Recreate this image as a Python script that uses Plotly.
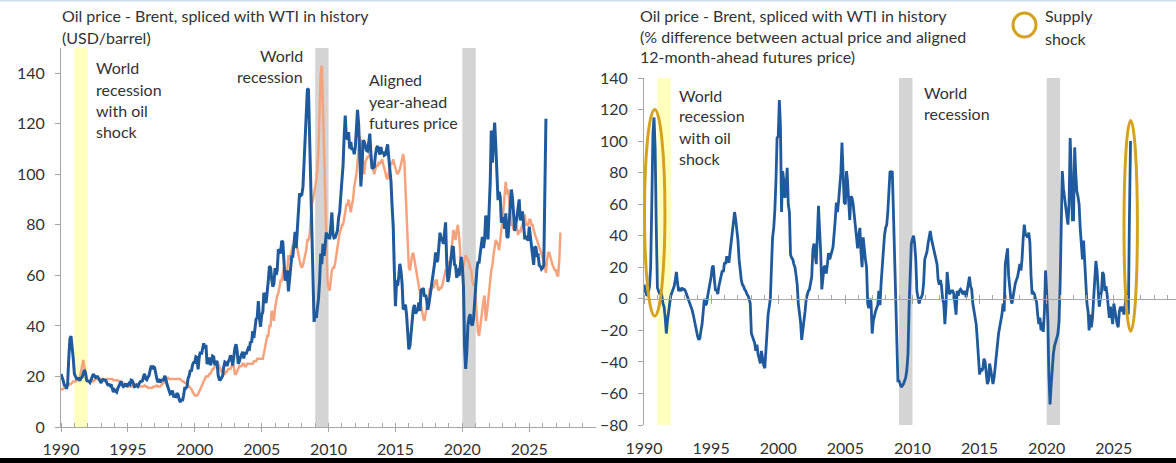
import pandas as pd
import plotly.graph_objects as go

# ---------------- data (monthly) ----------------
# Brent (spliced with WTI in history), USD/barrel, Jan 1990 - Apr 2026
brent = [
    21.0, 19.9, 18.4, 16.6, 16.4, 15.1, 17.2, 27.2, 34.9, 36.0, 32.3, 27.3,   # 1990
    21.0, 19.5, 19.1, 19.2, 19.2, 18.3, 19.4, 19.7, 20.8, 22.6, 21.5, 18.5,   # 1991
    18.2, 18.1, 17.6, 18.9, 19.9, 21.0, 20.3, 19.6, 19.9, 19.9, 19.0, 18.2,   # 1992
    17.4, 18.5, 18.8, 18.6, 18.5, 17.6, 16.7, 16.8, 16.3, 16.8, 15.1, 13.8,   # 1993
    14.7, 14.0, 13.8, 15.3, 16.3, 16.9, 18.0, 16.7, 16.0, 16.3, 17.2, 16.0,   # 1994
    16.6, 17.3, 16.9, 18.6, 18.4, 17.3, 15.9, 16.1, 16.6, 16.1, 16.8, 17.9,   # 1995
    18.0, 18.2, 19.9, 21.0, 19.1, 18.7, 19.7, 20.4, 22.6, 24.3, 22.9, 23.8,   # 1996
    23.5, 20.8, 19.1, 17.7, 19.0, 17.6, 18.5, 18.6, 18.6, 20.2, 19.2, 17.1,   # 1997
    15.3, 14.1, 13.1, 13.4, 14.4, 12.2, 12.1, 12.0, 13.4, 12.9, 11.0, 9.8,    # 1998
    11.1, 10.3, 12.5, 15.3, 15.3, 15.9, 19.1, 20.3, 22.5, 22.0, 24.6, 25.5,   # 1999
    25.5, 27.8, 27.5, 22.8, 27.6, 29.8, 28.7, 30.4, 33.1, 31.0, 32.5, 25.0,   # 2000
    25.6, 27.5, 24.5, 25.6, 28.1, 27.8, 24.5, 25.7, 25.6, 20.5, 18.8, 18.7,   # 2001
    19.4, 20.3, 23.7, 25.7, 25.4, 24.1, 25.7, 26.6, 28.3, 27.6, 24.3, 28.3,   # 2002
    31.2, 32.8, 30.4, 25.0, 25.8, 27.6, 28.4, 29.8, 27.1, 29.6, 28.8, 29.8,   # 2003
    31.2, 30.9, 33.8, 33.4, 37.9, 35.2, 38.2, 42.7, 43.2, 49.8, 43.1, 39.7,   # 2004
    44.3, 45.5, 53.1, 51.9, 49.0, 55.6, 57.9, 63.7, 63.0, 58.5, 55.5, 56.7,   # 2005
    62.9, 60.2, 62.1, 70.3, 69.8, 68.7, 73.7, 73.2, 62.5, 58.0, 58.8, 62.0,   # 2006
    53.7, 57.6, 62.1, 67.4, 67.5, 71.3, 77.2, 70.8, 77.1, 82.9, 92.5, 91.5,   # 2007
    91.9, 94.8, 103.3, 110.2, 124.6, 133.5, 133.9, 113.9, 99.1, 72.8, 53.2, 41.6,   # 2008
    44.9, 43.2, 47.0, 50.8, 57.9, 68.6, 64.4, 72.5, 67.7, 73.2, 77.0, 74.7,   # 2009
    76.4, 74.3, 79.3, 84.9, 76.3, 74.8, 75.0, 77.0, 77.8, 82.7, 85.3, 91.5,   # 2010
    96.5, 103.7, 114.6, 123.3, 114.5, 113.9, 116.7, 110.2, 112.8, 109.6, 110.5, 107.9,   # 2011
    110.7, 119.3, 125.5, 119.8, 110.3, 95.2, 102.6, 113.4, 113.0, 111.5, 109.5, 109.2,   # 2012
    112.3, 116.1, 108.5, 102.3, 102.6, 102.9, 107.4, 110.3, 111.2, 109.5, 107.8, 110.8,   # 2013
    108.1, 108.9, 107.5, 107.8, 109.5, 111.9, 106.8, 101.6, 97.1, 87.4, 79.4, 62.3,   # 2014
    47.8, 58.1, 55.9, 59.5, 64.6, 61.7, 56.8, 46.5, 47.6, 48.4, 44.3, 38.0,   # 2015
    30.7, 32.2, 38.2, 41.6, 46.7, 48.3, 44.9, 45.7, 46.6, 49.3, 45.9, 54.1,   # 2016
    54.6, 54.9, 51.6, 52.3, 50.3, 46.4, 48.5, 51.7, 56.2, 57.5, 62.7, 64.4,   # 2017
    69.1, 65.3, 66.0, 72.1, 76.9, 74.4, 74.3, 72.5, 78.9, 81.0, 64.8, 57.4,   # 2018
    59.4, 64.0, 66.1, 71.2, 71.1, 64.2, 63.9, 59.0, 62.8, 59.7, 63.2, 67.3,   # 2019
    63.7, 55.5, 32.0, 23.0, 29.4, 40.3, 43.2, 44.7, 40.9, 40.2, 42.7, 49.9,   # 2020
    54.8, 62.3, 65.4, 64.8, 68.5, 73.2, 75.2, 70.8, 74.5, 83.7, 81.1, 74.2,   # 2021
    86.5, 97.1, 117.3, 104.6, 113.3, 120.5, 111.9, 100.4, 89.8, 93.1, 91.1, 80.9,   # 2022
    82.5, 82.6, 78.4, 84.6, 75.5, 74.8, 80.1, 86.2, 94.0, 90.6, 82.9, 77.6,   # 2023
    80.1, 83.5, 85.4, 90.1, 81.8, 83.0, 85.3, 80.9, 74.3, 75.6, 74.4, 73.8,   # 2024
    79.3, 75.2, 72.6, 67.8, 64.2, 71.4, 71.0, 67.9, 68.0, 64.0, 63.6, 62.5,   # 2025
    63.0, 64.0, 92.0, 122.0,                                                  # 2026
]

# Aligned year-ahead futures price, USD/barrel, Jan 1990 - May 2027
futures = [
    14.5, 15.0, 15.0, 15.5, 16.0, 16.0, 16.5, 16.5, 17.0, 17.0, 17.5, 18.0,   # 1990
    18.0, 18.0, 18.5, 18.5, 19.0, 20.0, 22.0, 24.0, 26.5, 24.0, 21.0, 19.0,   # 1991
    18.5, 18.0, 18.0, 18.5, 18.5, 18.0, 18.5, 19.0, 19.0, 19.0, 19.0, 19.0,   # 1992
    19.0, 19.0, 19.0, 18.5, 18.5, 19.0, 19.0, 19.0, 19.0, 19.0, 19.0, 18.5,   # 1993
    18.5, 18.5, 18.5, 18.5, 18.0, 18.0, 18.0, 17.5, 17.0, 17.0, 16.5, 16.0,   # 1994
    16.0, 16.0, 16.0, 16.0, 16.0, 16.5, 17.0, 17.0, 16.5, 16.0, 16.0, 16.0,   # 1995
    16.0, 16.0, 16.0, 16.5, 16.0, 16.0, 15.5, 15.5, 15.5, 15.5, 15.5, 16.0,   # 1996
    16.0, 16.0, 16.5, 16.0, 16.0, 16.0, 16.5, 17.0, 17.5, 18.0, 19.0, 19.5,   # 1997
    19.5, 19.0, 19.0, 19.0, 19.0, 19.0, 19.0, 19.0, 19.0, 19.0, 19.0, 19.0,   # 1998
    18.5, 18.0, 18.0, 17.5, 17.5, 17.0, 16.5, 16.0, 15.5, 15.0, 14.0, 13.0,   # 1999
    12.5, 12.5, 12.5, 13.0, 14.0, 15.0, 16.0, 17.0, 18.0, 19.0, 20.0, 20.0,   # 2000
    20.0, 21.0, 21.0, 22.0, 23.0, 23.0, 24.0, 26.0, 26.0, 25.0, 24.0, 23.0,   # 2001
    22.0, 22.0, 21.0, 21.0, 22.0, 22.0, 23.0, 23.0, 23.0, 24.0, 24.0, 24.0,   # 2002
    21.0, 21.0, 22.0, 23.0, 24.0, 24.0, 24.0, 25.0, 25.0, 24.0, 24.0, 25.0,   # 2003
    25.0, 25.0, 25.0, 25.0, 25.0, 26.0, 26.0, 26.0, 27.0, 27.0, 27.0, 27.0,   # 2004
    27.0, 27.0, 29.0, 32.0, 33.0, 36.0, 36.0, 40.0, 40.0, 46.0, 45.0, 42.0,   # 2005
    47.0, 50.0, 52.0, 53.0, 55.0, 58.0, 58.0, 61.0, 63.0, 62.0, 60.0, 62.0,   # 2006
    68.0, 66.0, 68.0, 70.0, 72.0, 71.0, 73.0, 73.0, 70.0, 68.0, 66.0, 64.0,   # 2007
    63.0, 64.0, 66.0, 68.0, 70.0, 74.0, 74.0, 76.0, 82.0, 88.0, 90.0, 92.0,   # 2008
    95.0, 98.0, 102.0, 110.0, 125.0, 140.0, 143.0, 125.0, 104.0, 86.0, 70.0, 58.0,   # 2009
    55.0, 54.0, 58.0, 62.0, 63.0, 63.0, 65.0, 68.0, 72.0, 75.0, 77.0, 78.0,   # 2010
    80.0, 80.0, 82.0, 85.0, 88.0, 88.0, 90.0, 88.0, 85.0, 88.0, 90.0, 95.0,   # 2011
    98.0, 100.0, 105.0, 112.0, 115.0, 113.0, 108.0, 102.0, 100.0, 105.0, 106.0, 107.0,   # 2012
    107.0, 108.0, 106.0, 104.0, 101.0, 100.0, 102.0, 104.0, 103.0, 105.0, 104.0, 105.0,   # 2013
    106.0, 104.0, 102.0, 100.0, 99.0, 98.0, 100.0, 103.0, 105.0, 104.0, 106.0, 104.0,   # 2014
    102.0, 101.0, 100.0, 101.0, 102.0, 104.0, 106.0, 108.0, 105.0, 95.0, 84.0, 72.0,   # 2015
    63.0, 62.0, 65.0, 68.0, 69.0, 66.0, 63.0, 60.0, 57.0, 55.0, 53.0, 48.0,   # 2016
    45.0, 43.0, 42.0, 45.0, 48.0, 50.0, 52.0, 55.0, 54.0, 56.0, 55.0, 57.0,   # 2017
    58.0, 58.0, 55.0, 54.0, 55.0, 55.0, 56.0, 58.0, 60.0, 62.0, 62.0, 63.0,   # 2018
    65.0, 66.0, 68.0, 72.0, 78.0, 76.0, 74.0, 78.0, 80.0, 76.0, 70.0, 60.0,   # 2019
    62.0, 64.0, 65.0, 68.0, 67.0, 66.0, 65.0, 63.0, 62.0, 58.0, 56.0, 57.0,   # 2020
    50.0, 42.0, 38.0, 36.0, 40.0, 44.0, 46.0, 50.0, 52.0, 42.0, 45.0, 50.0,   # 2021
    56.0, 58.0, 62.0, 64.0, 68.0, 72.0, 74.0, 73.0, 72.0, 70.0, 76.0, 78.0,   # 2022
    82.0, 88.0, 93.0, 97.0, 92.0, 94.0, 90.0, 86.0, 80.0, 80.0, 78.0, 80.0,   # 2023
    80.0, 79.0, 76.0, 78.0, 77.0, 79.0, 80.0, 82.0, 84.0, 80.0, 80.0, 80.0,   # 2024
    82.0, 82.0, 80.0, 80.0, 78.0, 76.0, 75.0, 74.0, 72.0, 71.0, 70.0, 68.0,   # 2025
    67.0, 66.0, 64.0, 61.0, 66.0, 69.0, 69.0, 67.0, 65.0, 64.0, 63.0, 62.0,   # 2026
    62.0, 60.0, 60.0, 66.0, 77.0,                                             # 2027
]

# % difference between actual price and aligned 12-month-ahead futures price
gap_pct = [
    9, 5, 3, 2, 4, 8, 20, 60, 105, 115, 95, 45,                  # 1990
    7, 5, 3, 4, 2, -3, -5, -12, -22, -14, -6, -3,                # 1991
    2, 4, 6, 8, 12, 17, 10, 5, 6, 5, 7, 6,                       # 1992
    6, 5, 3, 1, 0, -2, -5, -7, -10, -14, -18, -22,               # 1993
    -24, -26, -25, -20, -16, -8, 0, -4, -3, 2, 6, 9,             # 1994
    14, 20, 21, 12, 5, 6, 3, 8, 12, 15, 18, 17,                  # 1995
    23, 22, 27, 24, 23, 30, 36, 43, 50, 55, 50, 45,              # 1996
    37, 25, 18, 12, 9, 8, 6, 5, 3, 2, 0, -3,                     # 1997
    -22, -24, -25, -28, -33, -29, -35, -38, -41, -33, -38, -42,  # 1998
    -44, -35, -22, -10, -3, 0, 20, 39, 45, 56, 75, 102,          # 1999
    103, 126, 110, 55, 81, 75, 64, 70, 83, 60, 55, 28,           # 2000
    26, 25, 22, 20, 15, 9, -3, -8, -15, -26, -20, -16,           # 2001
    -8, 0, 3, 5, 6, 10, 14, 31, 35, 28, 22, 40,                  # 2002
    59, 43, 30, 6, 12, 20, 21, 16, 22, 29, 25, 27,               # 2003
    30, 33, 45, 50, 61, 55, 62, 72, 80, 99, 73, 61,              # 2004
    60, 81, 75, 59, 50, 65, 64, 60, 52, 45, 35, 32,              # 2005
    40, 45, 30, 20, 39, 30, 25, 20, -3, -6, 0, -2,               # 2006
    -22, -14, -10, -8, -6, -4, 5, -4, 10, 22, 35, 40,            # 2007
    45, 47, 55, 65, 81, 80, 81, 55, 30, 9, -30, -52,             # 2008
    -52, -55, -56, -55, -54, -52, -50, -45, -35, -5, 20, 35,     # 2009
    38, 40, 35, 25, 5, -1, -3, 0, 1, 3, 10, 25,                  # 2010
    28, 30, 35, 40, 43, 38, 35, 30, 28, 25, 22, 12,              # 2011
    9, 12, 8, 0, -3, -16, -5, 17, 10, 3, 4, 5,                   # 2012
    5, 3, -3, -10, 5, 2, 5, 6, 5, 3, 4, 5,                       # 2013
    1, 5, 8, 14, 8, 6, -3, -8, -12, -16, -26, -40,               # 2014
    -48, -44, -46, -44, -38, -40, -46, -54, -52, -41, -45, -50,  # 2015
    -54, -50, -42, -37, -30, -22, -18, -14, -10, -3, -8, 22,     # 2016
    28, 32, 15, 7, 0, -3, 2, 7, 10, 12, 14, 18,                  # 2017
    22, 18, 25, 38, 47, 41, 40, 39, 42, 36, 15, 3,               # 2018
    4, 3, 0, -2, -10, -16, -12, -20, -15, -21, -8, 18,           # 2019
    4, -13, -48, -67, -55, -41, -35, -30, -28, -25, -22, -15,    # 2020
    9, 40, 81, 70, 65, 60, 55, 47, 60, 102, 80, 50,              # 2021
    50, 96, 80, 68, 65, 60, 45, 37, 25, 37, 20, 5,               # 2022
    -3, -8, -20, -10, -18, -12, 0, 10, 24, 18, 5, -5,            # 2023
    0, 5, 17, 15, 5, 8, 3, -8, -12, -5, -10, -16,                # 2024
    -3, -8, -10, -16, -18, -8, -5, -8, -5, -10, -5, 3,           # 2025
    -5, -10, 50, 100,                                            # 2026
]

brent_dates = pd.date_range("1990-01-01", periods=len(brent), freq="MS")
futures_dates = pd.date_range("1990-01-01", periods=len(futures), freq="MS")
gap_dates = pd.date_range("1990-01-01", periods=len(gap_pct), freq="MS")

# shaded periods
oil_shock_recession = ("1991-01-01", "1992-01-01")
world_recessions = [("2009-01-01", "2010-01-01"), ("2020-01-01", "2021-01-01")]

# ---------------- styling ----------------
W, H = 1176, 463
FONT = "Lato, 'Open Sans', sans-serif"
FS = 16
TXT = "#333333"
AXIS = "#A6A6A6"
BLUE = "#1F5A9C"
ORANGE = "#F4A37C"
GOLD = "#D4A21E"
YELLOW = "#FFFFBE"
GREY = "#D4D4D4"


def px_x(x):
    return x / W


def px_y(y):
    return 1 - y / H


# plot areas (paper fractions)
L_DOM_X = [px_x(61), px_x(596)]
L_DOM_Y = [px_y(427), px_y(48)]
R_DOM_X = [px_x(644), 1.0]
R_DOM_Y = [px_y(425), px_y(78)]
R_YMIN, R_YMAX = -80, 140
zero_pos = R_DOM_Y[0] + (0 - R_YMIN) / (R_YMAX - R_YMIN) * (R_DOM_Y[1] - R_DOM_Y[0])

fig = go.Figure()

fig.add_trace(go.Scatter(x=futures_dates, y=futures, mode="lines",
                         line=dict(color=ORANGE, width=2.5), xaxis="x", yaxis="y",
                         showlegend=False, hoverinfo="skip"))
fig.add_trace(go.Scatter(x=brent_dates, y=brent, mode="lines",
                         line=dict(color=BLUE, width=3), xaxis="x", yaxis="y",
                         showlegend=False, hoverinfo="skip"))
fig.add_trace(go.Scatter(x=gap_dates, y=gap_pct, mode="lines",
                         line=dict(color=BLUE, width=2.8), xaxis="x2", yaxis="y2",
                         showlegend=False, hoverinfo="skip"))
# carrier trace for the zero-line axis of the right panel
fig.add_trace(go.Scatter(x=[gap_dates[0]], y=[None], mode="lines", xaxis="x3", yaxis="y2",
                         showlegend=False, hoverinfo="skip"))

tickfont = dict(family=FONT, size=FS, color=TXT)
year_minor = dict(dtick="M12", tick0="1990-01-01", ticks="inside",
                  ticklen=4, tickcolor=AXIS, showgrid=False)

fig.update_layout(
    width=W, height=H,
    margin=dict(l=0, r=0, t=0, b=0, autoexpand=False),
    paper_bgcolor="white", plot_bgcolor="rgba(0,0,0,0)",
    font=dict(family=FONT, size=FS, color=TXT),
    xaxis=dict(domain=L_DOM_X, anchor="y", type="date", automargin=False,
               range=["1990-01-01", "2029-12-28"],
               tick0="1990-01-01", dtick="M60", tickformat="%Y",
               showgrid=False, zeroline=False,
               showline=True, linecolor=AXIS, linewidth=1,
               ticks="outside", ticklen=4, tickcolor=AXIS,
               minor=year_minor,
               tickfont=tickfont, ticklabelstandoff=4),
    yaxis=dict(domain=L_DOM_Y, anchor="x", range=[0, 150], automargin=False,
               tick0=0, dtick=20, showgrid=False, zeroline=False,
               showline=True, linecolor=AXIS, linewidth=1,
               ticks="outside", ticklen=5, tickcolor=AXIS,
               tickfont=tickfont, ticklabelstandoff=7),
    xaxis2=dict(domain=R_DOM_X, anchor="y2", type="date", automargin=False,
                range=["1990-01-01", "2029-08-20"],
                tick0="1990-01-01", dtick="M60", tickformat="%Y",
                showgrid=False, zeroline=False, showline=False,
                ticks="", tickfont=tickfont, ticklabelstandoff=12),
    xaxis3=dict(overlaying="x2", anchor="free", position=zero_pos, type="date",
                automargin=False, range=["1990-01-01", "2029-08-20"],
                tick0="1990-01-01", dtick="M60",
                showticklabels=False, showgrid=False, zeroline=False,
                showline=True, linecolor=AXIS, linewidth=1,
                ticks="outside", ticklen=4, tickcolor=AXIS,
                minor=year_minor),
    yaxis2=dict(domain=R_DOM_Y, anchor="x2", range=[R_YMIN, R_YMAX], automargin=False,
                tick0=0, dtick=20, showgrid=False, zeroline=False,
                showline=True, linecolor=AXIS, linewidth=1,
                ticks="outside", ticklen=5, tickcolor=AXIS,
                tickfont=tickfont, ticklabelstandoff=7),
)

shapes = []
# shaded recession periods in both panels
for xr, yr in (("x", "y domain"), ("x2", "y2 domain")):
    shapes.append(dict(type="rect", xref=xr, yref=yr,
                       x0=oil_shock_recession[0], x1=oil_shock_recession[1], y0=0, y1=1,
                       fillcolor=YELLOW, line=dict(width=0), layer="below"))
    for a, b in world_recessions:
        shapes.append(dict(type="rect", xref=xr, yref=yr, x0=a, x1=b, y0=0, y1=1,
                           fillcolor=GREY, line=dict(width=0), layer="below"))

# supply-shock rings on the right panel
shapes.append(dict(type="circle", xref="x2", yref="y2",
                   x0="1990-01-15", x1="1991-07-25", y0=-11, y1=120,
                   line=dict(color=GOLD, width=3)))
shapes.append(dict(type="circle", xref="x2", yref="y2",
                   x0="2025-10-05", x1="2026-10-05", y0=-20.5, y1=113,
                   line=dict(color=GOLD, width=3)))
# legend ring
shapes.append(dict(type="circle", xref="paper", yref="paper",
                   x0=px_x(1013), x1=px_x(1036), y0=px_y(37), y1=px_y(13),
                   line=dict(color=GOLD, width=3)))
# page frame lines
shapes.append(dict(type="line", xref="paper", yref="paper", x0=0, x1=1,
                   y0=px_y(0.5), y1=px_y(0.5), line=dict(color="#C9DCF0", width=2)))
shapes.append(dict(type="rect", xref="paper", yref="paper", x0=0, x1=1,
                   y0=0, y1=px_y(458), fillcolor="black", line=dict(width=0)))
fig.update_layout(shapes=shapes)


def text_lines(x, ys, lines, anchor="left"):
    for y, s in zip(ys, lines):
        fig.add_annotation(x=px_x(x), y=px_y(y), xref="paper", yref="paper",
                           text=s, showarrow=False, xanchor=anchor, yanchor="middle",
                           borderpad=0, font=dict(family=FONT, size=FS, color=TXT))


# left panel
text_lines(61, [16, 37], ["Oil price - Brent, spliced with WTI in history", "(USD/barrel)"])
text_lines(95, [68, 89, 110, 131], ["World", "recession", "with oil", "shock"])
text_lines(304, [55, 77], ["World", "recession"], anchor="right")
text_lines(368, [79, 101, 122], ["Aligned", "year-ahead", "futures price"])

# right panel
text_lines(639, [16, 36, 57], ["Oil price - Brent, spliced with WTI in history",
                               "(% difference between actual price and aligned",
                               "12-month-ahead futures price)"])
text_lines(1044, [16, 38], ["Supply", "shock"])
text_lines(678, [95, 116, 137, 158], ["World", "recession", "with oil", "shock"])
text_lines(923, [92, 113], ["World", "recession"])

fig.write_html("out.html")
